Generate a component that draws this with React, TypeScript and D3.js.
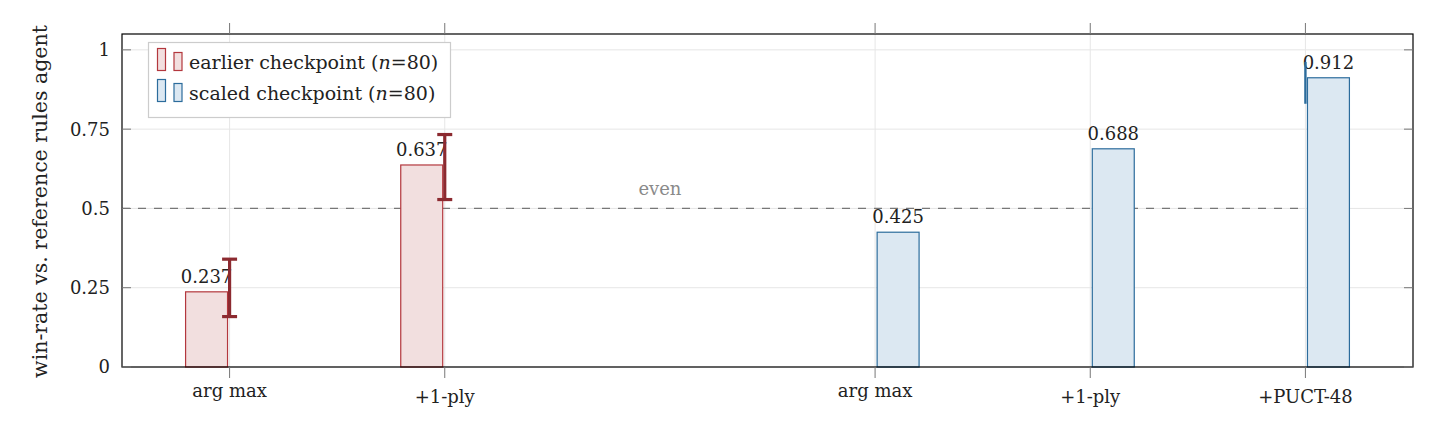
import React from "react";
import * as d3 from "d3";

const categories = ["arg max", "+1-ply", "arg max", "+1-ply", "+PUCT-48"];
const categoryPos = [0, 1, 3, 4, 5];
const yTicks = [0, 0.25, 0.5, 0.75, 1];
const yTickLabels = ["0", "0.25", "0.5", "0.75", "1"];

const earlierPos = [0, 1];
const earlierValues = [0.237, 0.637];
const earlierErrLow = [0.159, 0.528];
const earlierErrHigh = [0.34, 0.733];

const scaledPos = [3, 4, 5];
const scaledValues = [0.425, 0.688, 0.912];
const scaledErrLow: (number | null)[] = [null, null, 0.83];
const scaledErrHigh: (number | null)[] = [null, null, 0.962];

const evenLevel = 0.5;
const evenLabelPos = 2;

const W = 1438, H = 438;
const M = { left: 122, right: 1413, top: 34, bottom: 367 };
const FONT = "'DejaVu Serif', serif";
const FS = 18;

const RED_STROKE = "#b3373d";
const RED_FILL = "#f2dfdf";
const RED_ERR = "#8c2a30";
const BLUE_STROKE = "#2c6c9c";
const BLUE_FILL = "#dce8f2";

export default function App() {
  const x = d3.scaleLinear().domain([-0.5, 5.5]).range([M.left, M.right]);
  const y = d3.scaleLinear().domain([0, 1.05]).range([M.bottom, M.top]);
  const unit = x(1) - x(0);
  const barW = 0.195 * unit;
  const shift = 0.107 * unit;
  const fmt = d3.format(".3f");

  return (
    <svg width={W} height={H} style={{ position: "absolute", left: 0, top: 0, background: "#fff" }} fontFamily={FONT}>
      {/* grid */}
      {yTicks.map((t) => (
        <line key={"gy" + t} x1={M.left} x2={M.right} y1={y(t)} y2={y(t)} stroke="#e6e6e6" strokeWidth={1} />
      ))}
      {categoryPos.map((p, i) => (
        <line key={"gx" + i} x1={x(p)} x2={x(p)} y1={M.top} y2={M.bottom} stroke="#e6e6e6" strokeWidth={1} />
      ))}
      {/* even line */}
      <line x1={x(-0.5)} x2={x(5)} y1={y(evenLevel)} y2={y(evenLevel)} stroke="#777" strokeWidth={1.2} strokeDasharray="8 8" />
      <text x={x(evenLabelPos)} y={y(evenLevel) - 13} textAnchor="middle" fontSize={FS} fill="#8a8a8a">even</text>

      {/* bars */}
      {earlierValues.map((v, i) => (
        <rect key={"eb" + i} x={x(earlierPos[i]) - shift - barW / 2} y={y(v)} width={barW} height={y(0) - y(v)}
          fill={RED_FILL} stroke={RED_STROKE} strokeWidth={1.2} />
      ))}
      {scaledValues.map((v, i) => (
        <rect key={"sb" + i} x={x(scaledPos[i]) + shift - barW / 2} y={y(v)} width={barW} height={y(0) - y(v)}
          fill={BLUE_FILL} stroke={BLUE_STROKE} strokeWidth={1.2} />
      ))}
      {/* value labels */}
      {earlierValues.map((v, i) => (
        <text key={"el" + i} x={x(earlierPos[i]) - shift} y={y(v) - 9} textAnchor="middle" fontSize={FS} fill="#222">{fmt(v)}</text>
      ))}
      {scaledValues.map((v, i) => (
        <text key={"sl" + i} x={x(scaledPos[i]) + shift} y={y(v) - 9} textAnchor="middle" fontSize={FS} fill="#222">{fmt(v)}</text>
      ))}
      {/* error bars */}
      {earlierValues.map((v, i) => {
        const cx = x(earlierPos[i]);
        return (
          <g key={"ee" + i} stroke={RED_ERR} strokeWidth={3.2}>
            <line x1={cx} x2={cx} y1={y(earlierErrLow[i])} y2={y(earlierErrHigh[i])} />
            <line x1={cx - 7.5} x2={cx + 7.5} y1={y(earlierErrLow[i])} y2={y(earlierErrLow[i])} />
            <line x1={cx - 7.5} x2={cx + 7.5} y1={y(earlierErrHigh[i])} y2={y(earlierErrHigh[i])} />
          </g>
        );
      })}
      {scaledValues.map((v, i) => {
        const lo = scaledErrLow[i], hi = scaledErrHigh[i];
        if (lo == null || hi == null) return null;
        const cx = x(scaledPos[i]);
        return <line key={"se" + i} x1={cx} x2={cx} y1={y(lo)} y2={y(hi)} stroke={BLUE_STROKE} strokeWidth={2.4} />;
      })}

      {/* axis box */}
      <rect x={M.left} y={M.top} width={M.right - M.left} height={M.bottom - M.top} fill="none" stroke="#000" strokeWidth={1.2} />
      {/* x ticks */}
      {categoryPos.map((p, i) => (
        <g key={"xt" + i} stroke="#777" strokeWidth={1}>
          <line x1={x(p)} x2={x(p)} y1={M.bottom} y2={M.bottom + 11} />
          <line x1={x(p)} x2={x(p)} y1={M.top} y2={M.top - 11} />
        </g>
      ))}
      {categories.map((c, i) => (
        <text key={"xl" + i} x={x(categoryPos[i])} y={c.startsWith("arg") ? 396.5 : 403} textAnchor="middle" fontSize={FS} fill="#222">{c}</text>
      ))}
      {/* y ticks */}
      {yTicks.map((t, i) => (
        <g key={"yt" + i}>
          <line x1={M.left} x2={M.left + 9} y1={y(t)} y2={y(t)} stroke="#777" strokeWidth={1} />
          <line x1={M.right} x2={M.right - 9} y1={y(t)} y2={y(t)} stroke="#777" strokeWidth={1} />
          <text x={110} y={y(t)} dy="0.36em" textAnchor="end" fontSize={FS} fill="#222">{yTickLabels[i]}</text>
        </g>
      ))}
      <text transform={`translate(47,${(M.top + M.bottom) / 2 + 1}) rotate(-90)`} textAnchor="middle" fontSize={20.5} fill="#222">
        win-rate vs. reference rules agent
      </text>

      {/* legend */}
      <rect x={148.5} y={42.5} width={302} height={75} fill="#fff" stroke="#ccc" strokeWidth={1.2} />
      {[
        { label: "earlier checkpoint", fill: RED_FILL, stroke: RED_STROKE, yb: 70.5 },
        { label: "scaled checkpoint", fill: BLUE_FILL, stroke: BLUE_STROKE, yb: 101.5 },
      ].map((e, i) => (
        <g key={"lg" + i}>
          <rect x={157.5} y={e.yb - 22} width={8} height={22} fill={e.fill} stroke={e.stroke} strokeWidth={1.2} />
          <rect x={174} y={e.yb - 18} width={8} height={18} fill={e.fill} stroke={e.stroke} strokeWidth={1.2} />
          <text x={189} y={e.yb - 2} fontSize={19} fill="#222">
            {e.label} (<tspan fontStyle="italic">n</tspan>=80)
          </text>
        </g>
      ))}
    </svg>
  );
}
